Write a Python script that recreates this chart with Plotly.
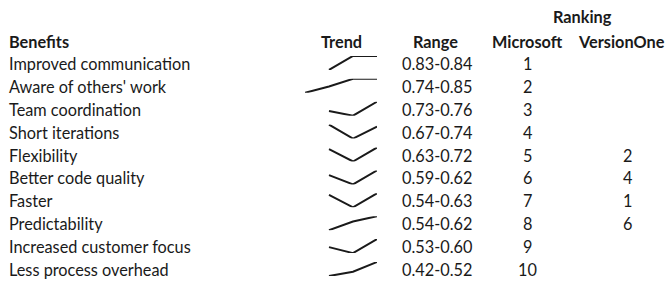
import plotly.graph_objects as go

W, H = 670, 283

benefits = ["Improved communication", "Aware of others' work", "Team coordination",
            "Short iterations", "Flexibility", "Better code quality", "Faster",
            "Predictability", "Increased customer focus", "Less process overhead"]
ranges = ["0.83-0.84", "0.74-0.85", "0.73-0.76", "0.67-0.74", "0.63-0.72",
          "0.59-0.62", "0.54-0.63", "0.54-0.62", "0.53-0.60", "0.42-0.52"]
microsoft_rank = ["1", "2", "3", "4", "5", "6", "7", "8", "9", "10"]
versionone_rank = ["", "", "", "", "2", "4", "1", "6", "", ""]

# Trend values (4 periods, first period missing for most benefits)
trend_periods = [1, 2, 3, 4]
trend_improved = [None, 0.83, 0.84, 0.84]
trend_aware = [0.74, 0.79, 0.85, 0.85]
trend_team = [None, 0.74, 0.73, 0.76]
trend_short = [None, 0.74, 0.67, 0.73]
trend_flex = [None, 0.71, 0.63, 0.72]
trend_quality = [None, 0.61, 0.59, 0.62]
trend_faster = [None, 0.62, 0.54, 0.63]
trend_predict = [None, 0.54, 0.59, 0.62]
trend_customer = [None, 0.56, 0.53, 0.60]
trend_overhead = [None, 0.42, 0.45, 0.52]
trends = [trend_improved, trend_aware, trend_team, trend_short, trend_flex,
          trend_quality, trend_faster, trend_predict, trend_customer, trend_overhead]

FONT = "Lato"
FS = 16.3
COL = "#1a1a1a"

row_y = [63.4 + 22.9 * i for i in range(len(benefits))]
header_y = 41
spark_x0, spark_x1 = 305, 377
spark_h = 14

fig = go.Figure()
layout_axes = {}
for i, vals in enumerate(trends):
    n = i + 1
    xa = "x" if n == 1 else f"x{n}"
    ya = "y" if n == 1 else f"y{n}"
    fig.add_trace(go.Scatter(x=trend_periods, y=vals, mode="lines",
                             line=dict(color=COL, width=2),
                             xaxis=xa, yaxis=ya, hoverinfo="skip",
                             showlegend=False, connectgaps=False))
    cy = row_y[i] - 0.5
    y_top = 1 - (cy - spark_h / 2) / H
    y_bot = 1 - (cy + spark_h / 2) / H
    valid = [v for v in vals if v is not None]
    xk = "xaxis" if n == 1 else f"xaxis{n}"
    yk = "yaxis" if n == 1 else f"yaxis{n}"
    layout_axes[xk] = dict(domain=[spark_x0 / W, spark_x1 / W],
                           range=[trend_periods[0], trend_periods[-1]],
                           visible=False, anchor=ya)
    layout_axes[yk] = dict(domain=[y_bot, y_top],
                           range=[min(valid), max(valid)],
                           visible=False, anchor=xa)

annotations = []

def add_text(text, x, y, anchor="center", bold=False):
    annotations.append(dict(
        text=f"<b>{text}</b>" if bold else text,
        x=x / W, y=1 - y / H, xref="paper", yref="paper",
        xanchor=anchor, yanchor="middle", showarrow=False,
        font=dict(family=FONT, size=FS, color=COL)))

add_text("Benefits", 7, header_y, anchor="left", bold=True)
add_text("Trend", 341, header_y, bold=True)
add_text("Range", 436, header_y, bold=True)
add_text("Microsoft", 527, header_y, bold=True)
add_text("VersionOne", 621, header_y, bold=True)
add_text("Ranking", 582, 17, bold=True)

for i in range(len(benefits)):
    add_text(benefits[i], 7, row_y[i], anchor="left")
    add_text(ranges[i], 436.5, row_y[i])
    add_text(microsoft_rank[i], 527.5, row_y[i])
    if versionone_rank[i]:
        add_text(versionone_rank[i], 627, row_y[i])

fig.update_layout(width=W, height=H, margin=dict(l=0, r=0, t=0, b=0),
                  paper_bgcolor="white", plot_bgcolor="white",
                  annotations=annotations, **layout_axes)

fig.write_html("out.html", config={"displayModeBar": False},
               post_script="document.body.style.margin='0';document.body.style.overflow='hidden';")
